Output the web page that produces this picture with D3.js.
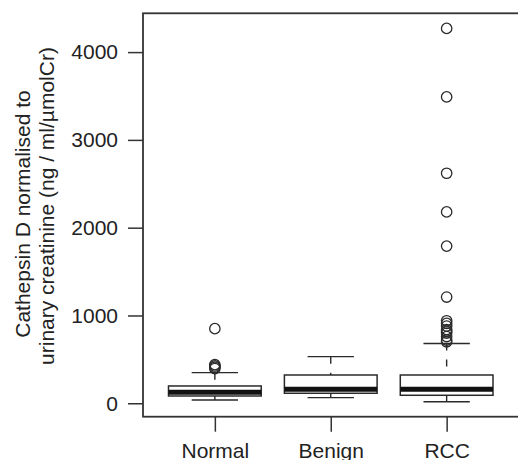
<!DOCTYPE html>
<html>
<head>
<meta charset="utf-8">
<script src="https://cdn.jsdelivr.net/npm/d3@7"></script>
<style>
  body { margin: 0; background: #fff; }
  svg { display: block; font-family: "Liberation Sans", Arial, Helvetica, sans-serif; }
</style>
</head>
<body>
<svg id="box_svg" width="518" height="460"></svg>
<script>
// values
const groups = ["Normal", "Benign", "RCC"];
const lowerWhisker = [38, 64, 18];
const q1 = [83, 114, 91];
const median = [125, 161, 161];
const q3 = [197, 322, 322];
const upperWhisker = [349, 531, 680];
const outliers = [
    [850, 440, 425, 410, 395],
    [],
    [4270, 3490, 2620, 2180, 1790, 1210, 940, 910, 880, 840, 820, 800, 760, 720, 700]
];
const yTicks = [0, 1000, 2000, 3000, 4000];

function drawBoxplot() {
    const svg = d3.select('#box_svg');
    const ink = '#2a2a2a';

    // plot region, R style (x in group units, y in data units)
    const xScale = d3.scaleLinear()
        .domain([0.38, 3.62])
        .range([143, 518.5]);
    const yScale = d3.scaleLinear()
        .domain([-153, 4442])
        .range([416.7, 13.3]);

    const boxW = 0.8, capW = 0.4;

    const data = groups.map((g, i) => ({
        name: g, idx: i + 1,
        lo: lowerWhisker[i], q1: q1[i], med: median[i], q3: q3[i], hi: upperWhisker[i],
        out: outliers[i]
    }));

    const g = svg.append('g');

    data.forEach(d => {
        const x = xScale(d.idx);
        const x0 = xScale(d.idx - boxW / 2), x1 = xScale(d.idx + boxW / 2);
        const c0 = xScale(d.idx - capW / 2), c1 = xScale(d.idx + capW / 2);

        // whiskers (dashed, drawn from cap towards box)
        g.append('line')
            .attr('x1', x).attr('x2', x)
            .attr('y1', yScale(d.hi)).attr('y2', yScale(d.q3))
            .style('stroke', ink).style('stroke-width', 1.4)
            .style('stroke-dasharray', '7,9');
        g.append('line')
            .attr('x1', x).attr('x2', x)
            .attr('y1', yScale(d.lo)).attr('y2', yScale(d.q1))
            .style('stroke', ink).style('stroke-width', 1.4)
            .style('stroke-dasharray', '7,9');
        // caps
        [d.hi, d.lo].forEach(v => {
            g.append('line')
                .attr('x1', c0).attr('x2', c1)
                .attr('y1', yScale(v)).attr('y2', yScale(v))
                .style('stroke', ink).style('stroke-width', 1.4);
        });
        // box
        g.append('rect')
            .attr('x', x0).attr('width', x1 - x0)
            .attr('y', yScale(d.q3)).attr('height', yScale(d.q1) - yScale(d.q3))
            .style('fill', 'white').style('stroke', ink).style('stroke-width', 1.5);
        // median
        g.append('line')
            .attr('x1', x0).attr('x2', x1)
            .attr('y1', yScale(d.med)).attr('y2', yScale(d.med))
            .style('stroke', '#111').style('stroke-width', 5);
        // outliers
        g.selectAll(null)
            .data(d.out)
            .enter().append('circle')
            .attr('cx', x)
            .attr('cy', v => yScale(v))
            .attr('r', 5.2)
            .style('fill', 'none').style('stroke', ink).style('stroke-width', 1.3);
    });

    // frame (right side runs off the page, as in the original)
    svg.append('rect')
        .attr('x', xScale(0.38)).attr('y', yScale(4442))
        .attr('width', 400).attr('height', yScale(-153) - yScale(4442))
        .style('fill', 'none').style('stroke', '#333').style('stroke-width', 1.8);

    // axes
    const yAxis = svg.append('g')
        .attr('transform', `translate(${xScale(0.38)},0)`)
        .call(d3.axisLeft(yScale).tickValues(yTicks).tickFormat(d3.format('d'))
            .tickSize(15).tickPadding(10));
    const xAxis = svg.append('g')
        .attr('transform', `translate(0,${yScale(-153)})`)
        .call(d3.axisBottom(xScale).tickValues([1, 2, 3]).tickFormat(i => groups[i - 1])
            .tickSize(15).tickPadding(11));
    [yAxis, xAxis].forEach(a => {
        a.select('.domain').remove();
        a.selectAll('line').style('stroke', '#333').style('stroke-width', 1.5);
        a.selectAll('text').style('font-size', '21px').style('fill', '#222')
            .style('font-family', '"Liberation Sans", Arial, sans-serif');
    });

    // y label, two lines
    const lab = svg.append('text')
        .attr('transform', 'rotate(-90)')
        .style('text-anchor', 'middle')
        .style('font-size', '21px')
        .style('fill', '#222');
    lab.append('tspan').attr('x', -214).attr('y', 30).text('Cathepsin D normalised to');
    lab.append('tspan').attr('x', -206).attr('y', 54).text('urinary creatinine (ng / ml/\u00b5molCr)');
}

drawBoxplot();
</script>
</body>
</html>
